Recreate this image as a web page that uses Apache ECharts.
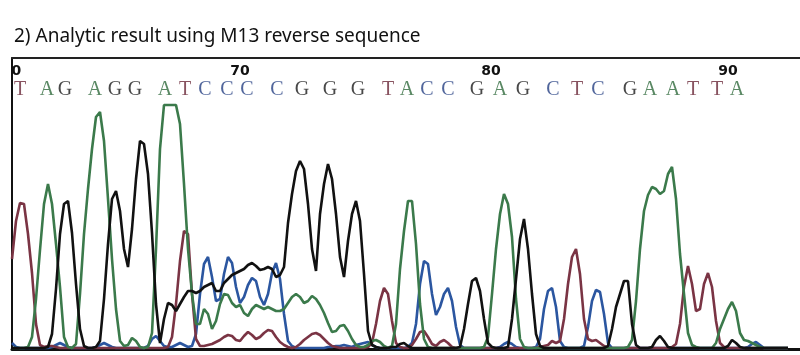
<!DOCTYPE html>
<html><head><meta charset="utf-8">
<script src="https://cdn.jsdelivr.net/npm/echarts@6/dist/echarts.min.js"></script>
<style>html,body{margin:0;padding:0;background:#fff}#c{width:800px;height:355px}</style>
</head><body><div id="c"></div>
<script>
// Trace samples: one value per scan step (scan index 0..194), height of each dye signal
const traceT = [90,128,146,145,115,76,25,4,2,3, 3,2,1,1,1,1,1,1,1,1, 1,1,1,1,1,1,1,1,1,1, 1,1,1,1,1,1,1,1,1,2,
  12,45,88,118,115,55,10,3,3,4, 5,7,9,12,14,13,9,8,13,17, 14,10,12,16,19,18,12,7,4,2, 1,2,5,9,12,15,16,14,10,6,
  3,2,1,1,1,1,1,1,1,2, 6,25,48,61,55,28,6,2,1,1, 4,10,17,18,12,5,3,7,9,6, 2,1,1,1,1,1,1,1,1,1,
  1,1,1,1,1,1,1,1,1,1, 1,1,2,3,4,8,6,8,30,65, 92,100,75,30,10,8,9,6,3,1, 1,1,1,1,1,1,1,1,1,1,
  1,1,1,1,1,2,5,25,62,83, 65,38,40,65,76,62,28,6,2,1, 1,1,1,1,1,1,1,1,1,1, 1,1,1,1,1];
const traceA = [1,1,1,1,2,12,50,99,145,165, 145,105,62,12,2,1,5,55,115,160, 200,232,237,208,150,90,40,8,3,4, 11,8,2,1,2,16,100,200,244,244,
  244,244,225,165,100,55,25,25,40,35, 20,28,45,55,54,46,42,44,36,33, 40,44,42,40,42,40,38,38,40,46, 52,55,52,46,48,53,50,44,36,26,
  17,18,23,24,18,10,4,2,2,4, 8,9,7,3,1,3,25,80,118,148, 148,105,45,10,2,1,1,1,1,1, 1,1,1,1,1,1,1,1,2,12,
  55,100,135,155,145,112,50,10,2,1, 1,1,1,1,1,1,1,1,1,1, 1,1,1,1,1,1,1,1,1,1, 1,1,1,1,2,9,48,100,138,154,
  162,160,155,158,175,182,150,95,55,16, 4,2,1,1,1,1,6,20,30,40, 47,38,16,9,8,6,4,2,1,1, 1,1,1,1,1];
const traceG = [1,1,1,1,1,1,1,1,1,2, 15,60,115,145,148,116,65,20,3,1, 1,2,8,50,105,150,158,138,100,82, 120,170,208,205,175,116,45,6,30,46,
  44,38,45,52,58,58,56,58,62,64, 66,58,58,66,70,74,76,78,80,84, 86,83,79,80,82,80,72,74,82,126, 155,178,188,180,145,100,78,135,165,185,
  170,135,92,72,108,135,148,128,75,18, 4,2,1,1,1,2,2,5,6,3, 1,1,1,1,1,1,1,1,1,1, 1,1,2,20,45,68,71,58,30,6,
  2,1,1,1,2,30,70,110,130,100, 55,15,3,1,1,1,1,1,1,1, 1,1,1,1,1,1,1,1,1,3, 20,42,55,68,68,25,4,1,1,1,
  2,9,13,8,2,1,1,1,1,1, 1,1,1,1,1,1,1,1,1,3, 9,6,2,1,1,1,1,1,1,1, 1,1,1,1,1];
const traceC = [6,2,1,1,1,1,1,1,1,1, 2,4,6,4,2,1,1,1,1,1, 1,2,4,6,4,2,1,1,1,1, 1,1,1,1,3,10,13,8,3,2,
  2,4,6,4,2,3,15,55,85,92, 72,48,50,75,92,86,62,46,52,64, 71,68,52,44,55,76,86,70,35,8, 3,1,1,1,1,1,1,1,1,2,
  2,3,3,4,3,2,4,5,6,7, 4,2,1,1,1,1,1,1,1,2, 6,25,65,88,85,55,34,42,55,61, 48,22,4,1,1,1,1,1,1,1,
  1,1,2,5,7,5,2,1,1,1, 1,2,10,40,58,61,42,8,2,1, 1,1,1,3,22,48,59,57,35,6, 1,1,1,1,1,1,1,1,1,1,
  1,1,1,1,1,1,1,1,1,1, 1,1,1,1,1,1,1,1,1,1, 1,1,1,1,2,5,7,4,1,1, 1,1,1,1,1];

// Base calls and their scan positions
const baseCalls = ['T','A','G','A','G','G','A','T','C','C','C','C','G','G','G','T','A','C','C','G','A','G','C','T','C','G','A','A','T','T','A'];
const basePos = [2.0,8.75,13.25,20.75,25.75,30.75,38.25,43.25,48.25,53.75,58.75,66.25,72.5,79.5,86.5,94,98.75,103.75,109,116.25,122,127.75,135.25,141.25,146.5,154.5,159.5,165.25,170.25,176.25,181.25];

// Base-number tick labels and their scan positions
const tickLabels = ['0','70','80','90'];
const tickPos = [1.1, 57, 119.75, 179];

const traceColors = {T:'#7a3444', A:'#3b7a4b', G:'#111111', C:'#2b56a0'};
const letterColors = {T:'#6a2838', A:'#2f6a3c', G:'#1a1a1a', C:'#243f82'};

const pairs = arr => arr.map((v,i)=>[i,v]);
const lineSeries = (name, arr) => ({
  name, type:'line', data: pairs(arr), showSymbol:false, symbol:'none',
  lineStyle:{color:traceColors[name], width:2.6}, xAxisIndex:0, yAxisIndex:0,
  animation:false, z:3
});

const chart = echarts.init(document.getElementById('c'), null, {renderer:'canvas'});
chart.setOption({
  animation:false,
  title:{text:'2) Analytic result using M13 reverse sequence', left:14, top:27, padding:0,
    textStyle:{fontFamily:'Noto Sans', fontSize:19, fontWeight:'normal', color:'#111'}},
  grid:{left:12, right:0, top:58, bottom:6},
  xAxis:[
    {type:'value', min:0, max:197, position:'bottom',
      axisLine:{show:true, onZero:false, lineStyle:{color:'#111', width:3}},
      axisTick:{show:false}, axisLabel:{show:false}, splitLine:{show:false}},
    {type:'value', min:0, max:197, position:'top',
      axisLine:{show:true, onZero:false, lineStyle:{color:'#222', width:2}},
      axisTick:{show:false}, splitLine:{show:false},
      axisLabel:{show:true, inside:true, margin:6, customValues:tickPos,
        formatter:v=>{const k=tickPos.indexOf(v); return k>=0?tickLabels[k]:'';},
        fontFamily:'DejaVu Sans', fontWeight:'bold', fontSize:14, color:'#111'}}
  ],
  yAxis:[{type:'value', min:0, max:291, axisLine:{show:true, onZero:false, lineStyle:{color:'#111', width:2}},
    axisTick:{show:false}, axisLabel:{show:false}, splitLine:{show:false}}],
  series:[
    lineSeries('C', traceC),
    lineSeries('T', traceT),
    lineSeries('A', traceA),
    lineSeries('G', traceG),
    {type:'scatter', xAxisIndex:1, yAxisIndex:0, symbolSize:0, animation:false, silent:true,
      data: baseCalls.map((b,i)=>({value:[basePos[i], 259], label:{color:letterColors[b]}})),
      label:{show:true, position:'inside', formatter:p=>baseCalls[p.dataIndex],
        fontFamily:'Liberation Serif', fontSize:20, fontWeight:'normal'}}
  ]
});
</script></body></html>
